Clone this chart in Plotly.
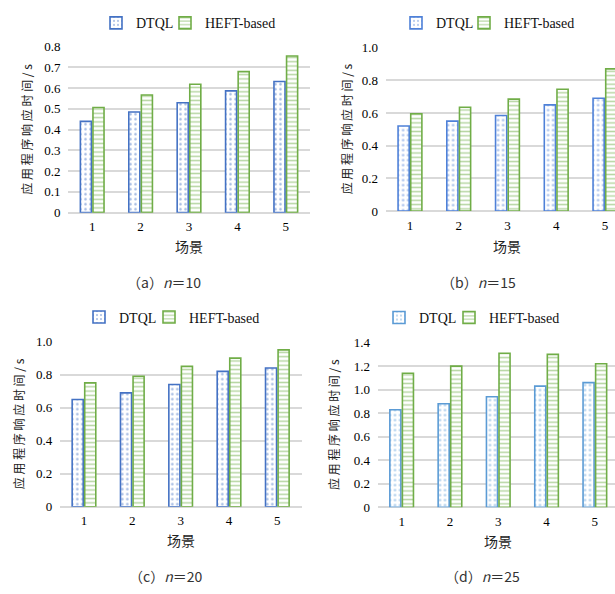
import plotly.graph_objects as go

categories = ["1", "2", "3", "4", "5"]
dtql_a = [0.44, 0.485, 0.53, 0.587, 0.632]
heft_a = [0.507, 0.567, 0.619, 0.68, 0.755]
dtql_b = [0.52, 0.55, 0.585, 0.65, 0.69]
heft_b = [0.595, 0.635, 0.685, 0.745, 0.87]
dtql_c = [0.65, 0.69, 0.74, 0.82, 0.84]
heft_c = [0.75, 0.79, 0.85, 0.90, 0.95]
dtql_d = [0.83, 0.88, 0.94, 1.03, 1.06]
heft_d = [1.14, 1.20, 1.31, 1.30, 1.22]
yticks_a = [0, 0.1, 0.2, 0.3, 0.4, 0.5, 0.6, 0.7, 0.8]
yticktext_a = ["0", "0.1", "0.2", "0.3", "0.4", "0.5", "0.6", "0.7", "0.8"]
yticks_bc = [0, 0.2, 0.4, 0.6, 0.8, 1.0]
yticktext_bc = ["0", "0.2", "0.4", "0.6", "0.8", "1.0"]
yticks_d = [0, 0.2, 0.4, 0.6, 0.8, 1.0, 1.2, 1.4]
yticktext_d = ["0", "0.2", "0.4", "0.6", "0.8", "1.0", "1.2", "1.4"]
series_names = ["DTQL", "HEFT-based"]
captions = ["（a）<i>n</i>＝10", "（b）<i>n</i>＝15", "（c）<i>n</i>＝20", "（d）<i>n</i>＝25"]
y_title = "应 用 程 序 响 应 时 间 / s"
x_title = "场景"

W, H = 615, 594
BLUE = "#4472C4"
BLUE_D = "#5B9BD5"
GREEN = "#70AD47"
GRID = "#D9D9D9"
SERIF = "Liberation Serif, Times New Roman, serif"
CJK = "Noto Sans CJK SC, sans-serif"

panels = [
    dict(dtql=dtql_a, heft=heft_a, tv=yticks_a, tt=yticktext_a, left=68, right=310, ytop=40.7, ybot=211, ymax=0.8,
         xend=4.5, blue=BLUE, ytx=27, leg_text=(137, 199), legy=16.7, xtitle_y=245, cap_x=164, cap_y=282),
    dict(dtql=dtql_b, heft=heft_b, tv=yticks_bc, tt=yticktext_bc, left=385.6, right=615, ytop=41.7, ybot=209.3, ymax=1.0,
         xend=4.206, blue="#4F81D8", ytx=346, leg_text=(437, 498), legy=16.7, xtitle_y=245, cap_x=478, cap_y=282),
    dict(dtql=dtql_c, heft=heft_c, tv=yticks_bc, tt=yticktext_bc, left=59.8, right=301.5, ytop=343.3, ybot=512.7, ymax=1.0,
         xend=4.5, blue=BLUE, ytx=18, leg_text=(120, 183), legy=318.5, xtitle_y=547, cap_x=165, cap_y=584),
    dict(dtql=dtql_d, heft=heft_d, tv=yticks_d, tt=yticktext_d, left=377.5, right=615, ytop=344.3, ybot=513.3, ymax=1.4,
         xend=4.417, blue=BLUE_D, ytx=334, leg_text=(420, 483), legy=319, xtitle_y=548, cap_x=482, cap_y=584),
]

fig = go.Figure()
annotations = []
layout = {}
for i, p in enumerate(panels):
    n = i + 1
    xa = "x" if n == 1 else f"x{n}"
    ya = "y" if n == 1 else f"y{n}"
    leg1 = "legend" if n == 1 else f"legend{2 * n - 1}"
    leg2 = f"legend{2 * n}"
    fig.add_trace(go.Bar(
        x=categories, y=p["dtql"], name=series_names[0], xaxis=xa, yaxis=ya, legend=leg1,
        marker=dict(color="white", line=dict(color=p["blue"], width=1.6),
                    pattern=dict(shape=".", fgcolor=p["blue"], bgcolor="white", size=5, solidity=0.2)),
    ))
    fig.add_trace(go.Bar(
        x=categories, y=p["heft"], name=series_names[1], xaxis=xa, yaxis=ya, legend=leg2,
        marker=dict(color="white", line=dict(color=GREEN, width=1.6),
                    pattern=dict(shape="-", fgcolor=GREEN, bgcolor="white", size=4.3, solidity=0.35)),
    ))
    cat_w = (p["right"] - p["left"]) / (p["xend"] + 0.5)
    x0 = p["left"] / W
    x1 = min(p["right"] / W, 1.0)
    y_dom_top = 1 - p["ytop"] / H
    y_dom_bot = 1 - p["ybot"] / H
    kx = "xaxis" if n == 1 else f"xaxis{n}"
    ky = "yaxis" if n == 1 else f"yaxis{n}"
    layout[kx] = dict(domain=[x0, x1], anchor=ya, range=[-0.5, p["xend"]], type="category",
                      showgrid=False, showline=False, zeroline=False,
                      ticks="outside", ticklen=2, tickcolor="rgba(0,0,0,0)",
                      tickfont=dict(family=SERIF, size=13, color="#000"))
    layout[ky] = dict(domain=[y_dom_bot, y_dom_top], anchor=xa, range=[0, p["ymax"] + 0.0001],
                      tickvals=p["tv"], ticktext=p["tt"], showgrid=True, gridcolor=GRID, gridwidth=1.5,
                      zeroline=True, zerolinecolor=GRID, zerolinewidth=1.5, showline=False,
                      ticks="outside", ticklen=4, tickcolor="rgba(0,0,0,0)",
                      tickfont=dict(family=SERIF, size=13, color="#000"))
    t1, t2 = p["leg_text"]
    for leg, tx in ((leg1, t1 - 1), (leg2, t2 + 6)):
        layout[leg] = dict(x=(tx - 40) / W, y=1 - p["legy"] / H, xanchor="left", yanchor="middle",
                           orientation="h", font=dict(family=SERIF, size=14, color="#111"),
                           bgcolor="rgba(0,0,0,0)", itemwidth=30)
    annotations.append(dict(text=y_title, x=p["ytx"] / W, y=1 - (p["ytop"] + p["ybot"]) / 2 / H,
                            xref="paper", yref="paper", showarrow=False, textangle=-90,
                            font=dict(family=CJK, size=12, color="#222"), xanchor="center", yanchor="middle"))
    annotations.append(dict(text=x_title, x=(p["left"] + cat_w * 2.5) / W,
                            y=1 - p["xtitle_y"] / H, xref="paper", yref="paper", showarrow=False,
                            font=dict(family=CJK, size=14, color="#222"), xanchor="center", yanchor="middle"))
    annotations.append(dict(text=captions[i], x=p["cap_x"] / W, y=1 - p["cap_y"] / H,
                            xref="paper", yref="paper", showarrow=False,
                            font=dict(family=CJK, size=14, color="#333"), xanchor="center", yanchor="middle"))

fig.update_layout(
    width=W, height=H, margin=dict(l=0, r=0, t=0, b=0),
    paper_bgcolor="white", plot_bgcolor="white",
    barmode="group", bargap=0.48, bargroupgap=0.12,
    showlegend=True, annotations=annotations, **layout,
)
fig.write_html(
    "out.html", config={"displayModeBar": False},
    post_script=(
        "document.documentElement.style.margin='0';document.body.style.margin='0';"
        "document.body.style.overflow='hidden';"
        "var gd=document.getElementById('{plot_id}');gd.style.position='fixed';"
        "gd.style.top='0px';gd.style.left='0px';"
    ),
)
